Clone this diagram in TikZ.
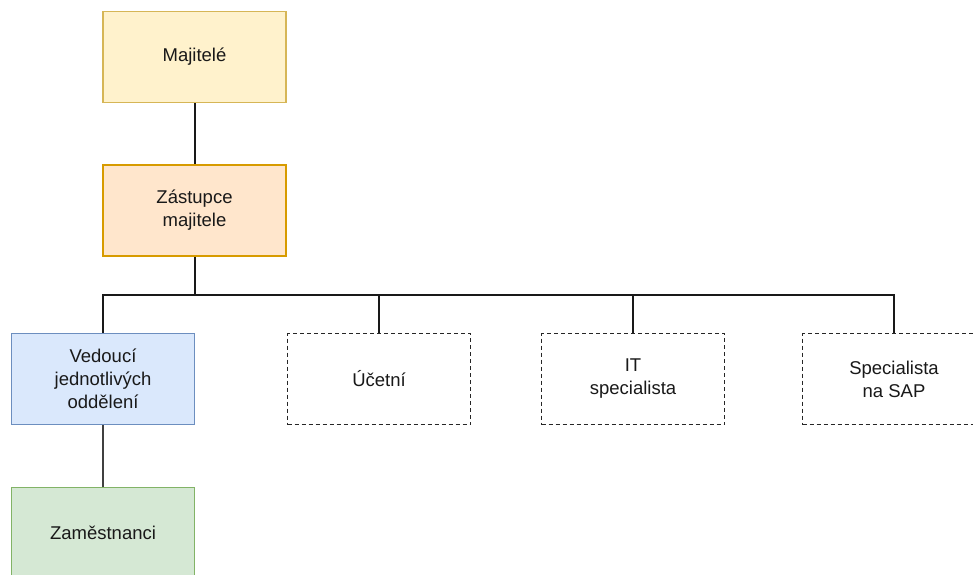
\documentclass[tikz,border=0pt]{standalone}
\usepackage{fontspec}
\setmainfont{Liberation Sans}
\usetikzlibrary{positioning}
\definecolor{majfill}{HTML}{FFF2CC}\definecolor{majdraw}{HTML}{D6B656}
\definecolor{zasfill}{HTML}{FFE6CC}\definecolor{zasdraw}{HTML}{D79B00}
\definecolor{vedfill}{HTML}{DAE8FC}\definecolor{veddraw}{HTML}{6C8EBF}
\definecolor{zamfill}{HTML}{D5E8D4}\definecolor{zamdraw}{HTML}{82B366}
\tikzset{
  orgbox/.style={rectangle, minimum width=183pt, minimum height=91pt, inner sep=0pt,
    align=center, line width=1.5pt, font=\fontsize{18.5}{23}\selectfont, text=black!90},
  dashbox/.style={orgbox, draw=black!85, fill=white, dash pattern=on 4pt off 3pt},
  conn/.style={line width=2pt, draw=black!90}
}
\begin{document}
\begin{tikzpicture}[x=1pt,y=-1pt]
\useasboundingbox (0,0) rectangle (973,574);
\clip (0,0) rectangle (973,574);
\fill[white] (0,0) rectangle (973,574);
\node[orgbox, draw=majdraw, fill=majfill] (maj) at (194.5,57) {Majitelé};
\node[orgbox, draw=zasdraw, fill=zasfill] (zas) at (194.5,210.5) {Zástupce\\majitele};
\node[orgbox, draw=veddraw, fill=vedfill] (ved) at (103,379) {Vedoucí\\jednotlivých\\oddělení};
\node[dashbox] (uce) at (379,379) {Účetní};
\node[dashbox] (it) at (633,379) {IT\\specialista};
\node[dashbox] (sap) at (894,379) {Specialista\\na SAP};
\node[orgbox, draw=zamdraw, fill=zamfill] (zam) at (103,533) {Zaměstnanci};
\coordinate (j) at (194.5,295);
\draw[conn] (maj) -- (zas);
\draw[conn] (zas) -- (j) -| (ved.north);
\draw[conn] (j) -| (uce.north);
\draw[conn] (j) -| (it.north);
\draw[conn] (j) -| (sap.north);
\draw[conn, draw=black!75] (ved) -- (zam);
\end{tikzpicture}
\end{document}
